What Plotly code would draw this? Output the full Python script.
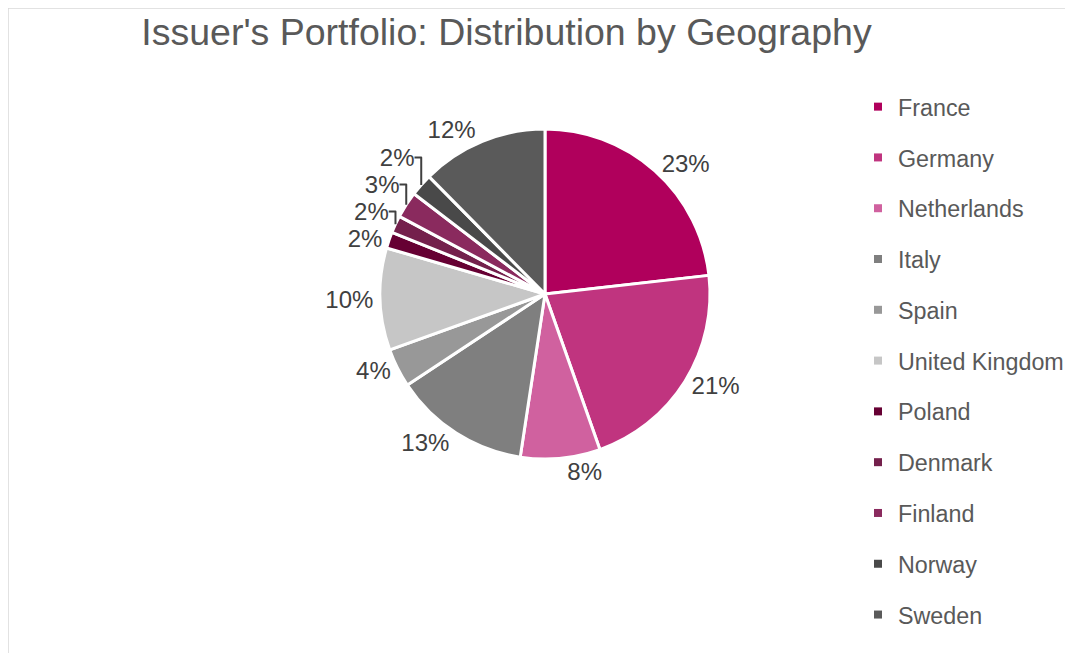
import plotly.graph_objects as go

countries = ["France", "Germany", "Netherlands", "Italy", "Spain", "United Kingdom",
             "Poland", "Denmark", "Finland", "Norway", "Sweden"]
shares = [23.2, 21.4, 7.8, 13.3, 3.8, 10.0, 1.6, 1.7, 2.6, 2.2, 12.4]
colors = ["#B0005C", "#C0347F", "#D0619F", "#7F7F7F", "#989898", "#C6C6C6",
          "#660033", "#74204C", "#8A2A5E", "#494949", "#5A5A5A"]
title_text = "Issuer's Portfolio: Distribution by Geography"

W, H = 1065, 645
cx, cy, r = 537, 286, 165

fig = go.Figure()
fig.add_trace(go.Pie(
    labels=countries,
    values=shares,
    sort=False,
    direction="clockwise",
    rotation=0,
    marker=dict(colors=colors, line=dict(color="white", width=3)),
    texttemplate="%{percent:.0%}",
    textposition="outside",
    outsidetextfont=dict(family="Liberation Sans, Arial", size=24, color="#404040"),
    domain=dict(x=[(cx - r) / W, (cx + r) / W], y=[(H - cy - r) / H, (H - cy + r) / H]),
    showlegend=False,
    hoverinfo="label+percent",
))

# legend entries (one per country, same colours)
for name, col in zip(countries, colors):
    fig.add_trace(go.Scatter(
        x=[None], y=[None], mode="markers", name=name, legendgroup=name,
        marker=dict(symbol="square", size=8, color=col),
        showlegend=True, hoverinfo="skip",
    ))

fig.update_layout(
    width=W, height=H,
    margin=dict(l=0, r=0, t=0, b=0, autoexpand=False),
    paper_bgcolor="white", plot_bgcolor="white",
    xaxis=dict(visible=False), yaxis=dict(visible=False),
    title=dict(text=title_text, xref="container", yref="container",
               x=498.5 / W, xanchor="center", y=1 - 23.5 / H, yanchor="middle",
               font=dict(family="Liberation Sans, Arial", size=37.5, color="#595959")),
    legend=dict(xref="container", yref="container", x=850 / W, xanchor="left",
                y=1 - 77 / H, yanchor="top", tracegroupgap=17.5, maxheight=1,
                font=dict(family="Liberation Sans, Arial", size=23.3, color="#595959"),
                bgcolor="rgba(0,0,0,0)"),
    shapes=[dict(type="rect", xref="paper", yref="paper",
                 x0=0, x1=1.05, y0=-0.05, y1=1,
                 line=dict(color="#D9D9D9", width=1.5), fillcolor="rgba(0,0,0,0)",
                 layer="below")],
)

fig.write_html("out.html")
